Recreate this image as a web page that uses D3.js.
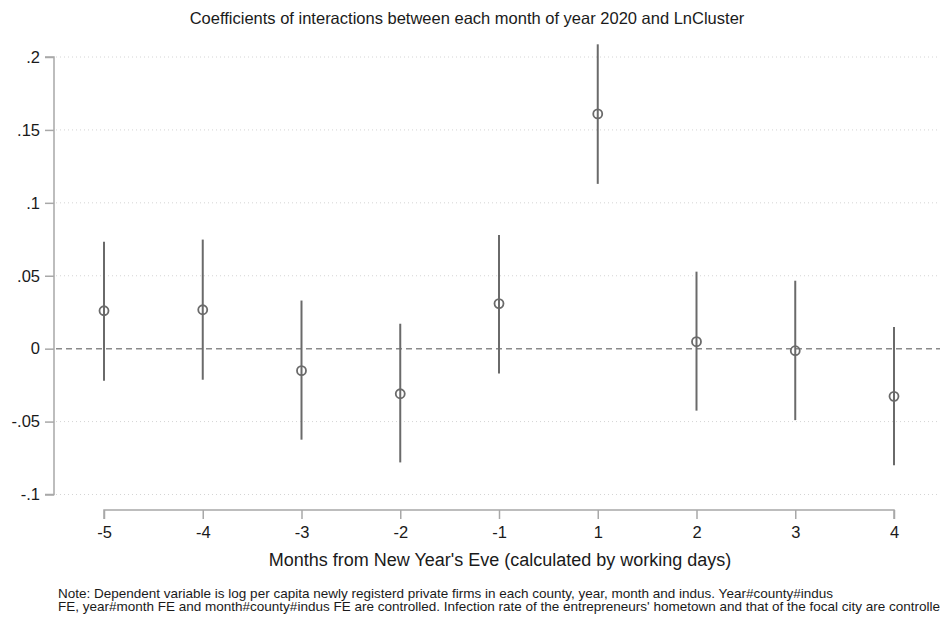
<!DOCTYPE html>
<html>
<head>
<meta charset="utf-8">
<script src="https://cdn.jsdelivr.net/npm/d3@7"></script>
<style>
  body { margin: 0; background: #fff; }
  text { font-family: "Liberation Sans", Arial, sans-serif; fill: #1a1a1a; }
</style>
</head>
<body>
<div id="chart"></div>
<script>
// months relative to New Year's Eve (no 0)
var months = ["-5", "-4", "-3", "-2", "-1", "1", "2", "3", "4"];
var coef   = [0.026, 0.0267, -0.0151, -0.0309, 0.0309, 0.161, 0.0048, -0.0014, -0.0327];
var ciLow  = [-0.022, -0.0213, -0.0624, -0.078, -0.0171, 0.113, -0.0425, -0.049, -0.080];
var ciHigh = [0.0734, 0.0748, 0.033, 0.0171, 0.078, 0.2087, 0.0528, 0.0466, 0.0149];
var yTicks = [-0.1, -0.05, 0, 0.05, 0.1, 0.15, 0.2];
var yTickLabels = ["-.1", "-.05", "0", ".05", ".1", ".15", ".2"];

var width = 940, height = 617;
var grey = "#6a6a6a";

var svg = d3.select("#chart").append("svg")
    .attr("width", width)
    .attr("height", height);

var x = d3.scalePoint()
    .domain(months)
    .range([104, 894]);

var y = d3.scaleLinear()
    .domain([-0.1, 0.2])
    .range([494.5, 57]);

// gridlines
svg.append("g").selectAll("line")
    .data(yTicks.filter(function(d) { return d != 0; }))
    .enter().append("line")
    .attr("x1", 56).attr("x2", width)
    .attr("y1", function(d) { return y(d); })
    .attr("y2", function(d) { return y(d); })
    .attr("stroke", "#d4d4d4")
    .attr("stroke-width", 1)
    .attr("stroke-dasharray", "1,3");

// zero reference line
svg.append("line")
    .attr("x1", 56).attr("x2", width)
    .attr("y1", y(0)).attr("y2", y(0))
    .attr("stroke", "#8a8a8a")
    .attr("stroke-width", 1.5)
    .attr("stroke-dasharray", "6,4");

// y axis
var yAxis = d3.axisLeft(y)
    .tickValues(yTicks)
    .tickFormat(function(d, i) { return yTickLabels[i]; })
    .tickSize(9)
    .tickPadding(5);

var gy = svg.append("g")
    .attr("transform", "translate(54,0)")
    .call(yAxis);
gy.select(".domain").attr("stroke", "#a8a8a8").attr("stroke-width", 1.5)
    .attr("d", "M-9," + y(0.2) + "H0V" + y(-0.1) + "H-9");
gy.selectAll(".tick line").attr("stroke", "#a8a8a8").attr("stroke-width", 1.5);
gy.selectAll(".tick text").style("font-size", "16.5px").attr("fill", "#1a1a1a")
    .style("font-family", "'Liberation Sans', Arial, sans-serif");

// x axis
var xAxis = d3.axisBottom(x)
    .tickSize(9)
    .tickPadding(7);

var gx = svg.append("g")
    .attr("transform", "translate(0,510)")
    .call(xAxis);
gx.select(".domain").attr("stroke", "#a8a8a8").attr("stroke-width", 1.5)
    .attr("d", "M104,9V0H894V9");
gx.selectAll(".tick line").attr("stroke", "#a8a8a8").attr("stroke-width", 1.5);
gx.selectAll(".tick text").style("font-size", "16.5px").attr("fill", "#1a1a1a")
    .style("font-family", "'Liberation Sans', Arial, sans-serif");

// confidence intervals
svg.append("g").selectAll("line")
    .data(months)
    .enter().append("line")
    .attr("x1", function(d) { return x(d); })
    .attr("x2", function(d) { return x(d); })
    .attr("y1", function(d, i) { return y(ciLow[i]); })
    .attr("y2", function(d, i) { return y(ciHigh[i]); })
    .attr("stroke", grey)
    .attr("stroke-width", 2);

// point estimates
svg.append("g").selectAll("circle")
    .data(months)
    .enter().append("circle")
    .attr("cx", function(d) { return x(d); })
    .attr("cy", function(d, i) { return y(coef[i]); })
    .attr("r", 4.5)
    .attr("fill", "none")
    .attr("stroke", grey)
    .attr("stroke-width", 1.8);

// title
svg.append("text")
    .attr("x", 467)
    .attr("y", 24)
    .attr("text-anchor", "middle")
    .style("font-size", "16.5px")
    .text("Coefficients of interactions between each month of year 2020 and LnCluster");

// x label
svg.append("text")
    .attr("x", 500)
    .attr("y", 566)
    .attr("text-anchor", "middle")
    .style("font-size", "18px")
    .text("Months from New Year's Eve (calculated by working days)");

// note
var note = svg.append("text")
    .attr("x", 58)
    .attr("y", 598)
    .style("font-size", "13.5px");
note.append("tspan").attr("x", 58).attr("y", 598)
    .text("Note: Dependent variable is log per capita newly registerd private firms in each county, year, month and indus. Year#county#indus");
note.append("tspan").attr("x", 58).attr("y", 611)
    .text("FE, year#month FE and month#county#indus FE are controlled. Infection rate of the entrepreneurs' hometown and that of the focal city are controlled.");
</script>
</body>
</html>
